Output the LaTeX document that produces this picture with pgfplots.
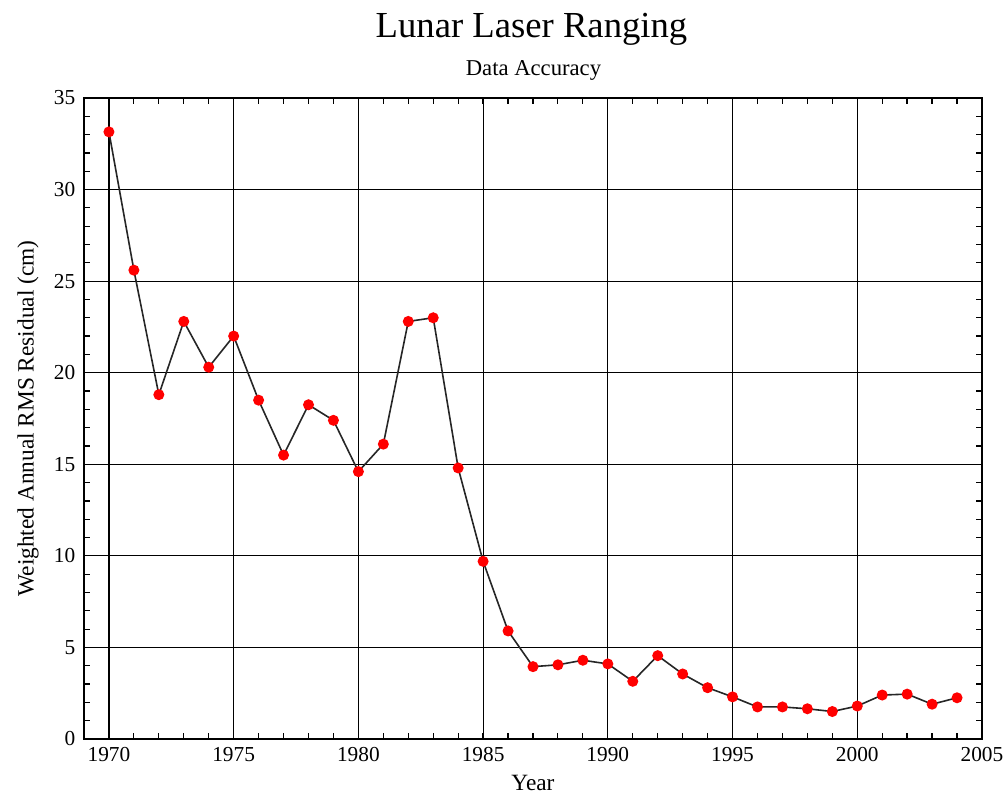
\documentclass[border=0pt]{standalone}
\usepackage{fontspec}
\setmainfont{Liberation Serif}
\usepackage{pgfplots}
\pgfplotsset{compat=1.18}
\begin{document}
\begin{tikzpicture}[x=0.75pt,y=0.75pt]
\begin{axis}[
  scale only axis,
  width=673.5pt, height=480.75pt,
  xmin=1969, xmax=2005, ymin=0, ymax=35,
  xtick={1970,1975,...,2005}, ytick={0,5,...,35},
  minor xtick={1969,...,2005}, minor ytick={0,...,35},
  tick align=inside,
  major tick length=7pt, minor tick length=4.5pt,
  tick style={black, line width=0.9pt},
  xticklabel style={/pgf/number format/1000 sep={}, yshift=-3pt},
  yticklabel style={xshift=-3pt},
  /pgf/number format/assume math mode=true,
  ticklabel style={font=\fontsize{16}{18}\selectfont},
  grid=major,
  major grid style={black, line width=0.9pt},
  axis line style={black, line width=1.8pt},
  xlabel={Year}, ylabel={Weighted Annual RMS Residual (cm)},
  label style={font=\fontsize{17.5}{20}\selectfont},
  xlabel style={at={(axis description cs:0.5,-0.0796)}, anchor=base},
  ylabel style={at={(axis description cs:-0.0624,0.5)}, anchor=center},
]
\addplot[black!85, line width=1.2pt, mark=*, mark size=3.5pt,
  mark options={fill=red, draw=red}] coordinates {
(1970,33.15) (1971,25.6) (1972,18.8) (1973,22.8) (1974,20.3) (1975,22.0)
(1976,18.5) (1977,15.5) (1978,18.25) (1979,17.4) (1980,14.6) (1981,16.1)
(1982,22.8) (1983,23.0) (1984,14.8) (1985,9.7) (1986,5.9) (1987,3.95)
(1988,4.05) (1989,4.3) (1990,4.1) (1991,3.15) (1992,4.55) (1993,3.55)
(1994,2.8) (1995,2.3) (1996,1.75) (1997,1.75) (1998,1.65) (1999,1.5)
(2000,1.8) (2001,2.4) (2002,2.45) (2003,1.9) (2004,2.25)
};
\end{axis}
\node[font=\fontsize{27.5}{32}\selectfont, anchor=base] at (447.5,701) {Lunar Laser Ranging};
\node[font=\fontsize{17}{20}\selectfont, anchor=base] at (449.5,663) {Data Accuracy};
\useasboundingbox (-84,-57) rectangle (924,739);
\end{tikzpicture}
\end{document}
